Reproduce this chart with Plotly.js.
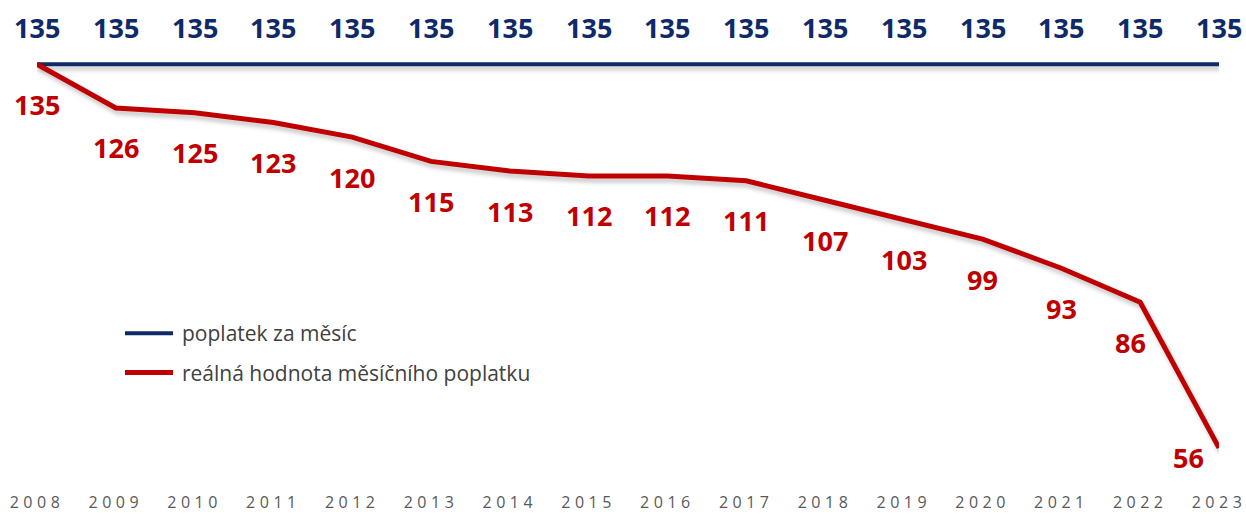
<!DOCTYPE html>
<html>
<head>
<meta charset="utf-8">
<script src="https://cdn.plot.ly/plotly-3.0.1.min.js"></script>
<style>
  html, body { margin: 0; padding: 0; background: #fff; }
  #chart { width: 1246px; height: 514px; }
  .xtick text { letter-spacing: 4.5px; }
  .scatterlayer .js-line { filter: drop-shadow(2px 4px 2px rgba(0,0,0,0.22)); }
</style>
</head>
<body>
<div id="chart"></div>
<script>
const years = [2008, 2009, 2010, 2011, 2012, 2013, 2014, 2015, 2016, 2017, 2018, 2019, 2020, 2021, 2022, 2023];
const monthlyFee = [135, 135, 135, 135, 135, 135, 135, 135, 135, 135, 135, 135, 135, 135, 135, 135];
const realValue = [135, 126, 125, 123, 120, 115, 113, 112, 112, 111, 107, 103, 99, 93, 86, 56];
const tickLabels = years.map(String);
const seriesNames = ['poplatek za měsíc', 'reálná hodnota měsíčního poplatku'];

const BLUE = '#0e2a68';
const RED = '#c00000';
const labelFont = { family: 'Open Sans, Noto Sans, sans-serif', size: 27, weight: 700 };

const traces = [
  { x: years, y: monthlyFee, name: seriesNames[0], mode: 'lines', legendgroup: 'a',
    line: { color: BLUE, width: 4 }, cliponaxis: false, hoverinfo: 'skip' },
  { x: years, y: realValue, name: seriesNames[1], mode: 'lines', legendgroup: 'b',
    line: { color: RED, width: 5 }, cliponaxis: false, hoverinfo: 'skip' }
];

const annotations = [];
years.forEach((yr, i) => {
  annotations.push({ x: yr, y: monthlyFee[i], text: String(monthlyFee[i]), showarrow: false,
    xanchor: 'center', yanchor: 'middle', yshift: 37,
    font: Object.assign({ color: BLUE }, labelFont) });
  const last = i === years.length - 1;
  const beforeLast = i === years.length - 2;
  annotations.push({ x: yr, y: realValue[i], text: String(realValue[i]), showarrow: false,
    xanchor: 'center', yanchor: 'middle',
    yshift: last ? -10 : -40, xshift: last ? -31 : (beforeLast ? -10 : 0),
    font: Object.assign({ color: RED }, labelFont) });
});

const layout = {
  width: 1246, height: 514,
  margin: { l: 37, r: 27, t: 39.7, b: 36.8 },
  paper_bgcolor: '#fff', plot_bgcolor: '#fff',
  showlegend: true,
  legend: { x: 0.0736, y: 0.375, xanchor: 'left', yanchor: 'top', traceorder: 'grouped',
    tracegroupgap: 9, itemwidth: 48, bgcolor: 'rgba(0,0,0,0)',
    font: { family: 'Open Sans, Noto Sans, sans-serif', size: 21, color: '#404040' } },
  xaxis: { range: [2008, 2023], tickvals: years, ticktext: tickLabels, showgrid: false,
    zeroline: false, showline: false, ticks: 'outside', ticklen: 11, tickcolor: 'rgba(0,0,0,0)',
    ticklabeloverflow: 'allow',
    tickfont: { family: 'Open Sans, Noto Sans, sans-serif', size: 16, color: '#595959' } },
  yaxis: { range: [50, 140], visible: false, showgrid: false, zeroline: false },
  annotations: annotations
};

function fixLegendLines() {
  document.querySelectorAll('.legend .legendlines path.js-line').forEach(p => {
    p.setAttribute('d', 'M1,0h48');
  });
}
Plotly.newPlot('chart', traces, layout, { displayModeBar: false, staticPlot: true }).then(fixLegendLines);
fixLegendLines();
setTimeout(fixLegendLines, 0);
setTimeout(fixLegendLines, 100);
</script>
</body>
</html>
